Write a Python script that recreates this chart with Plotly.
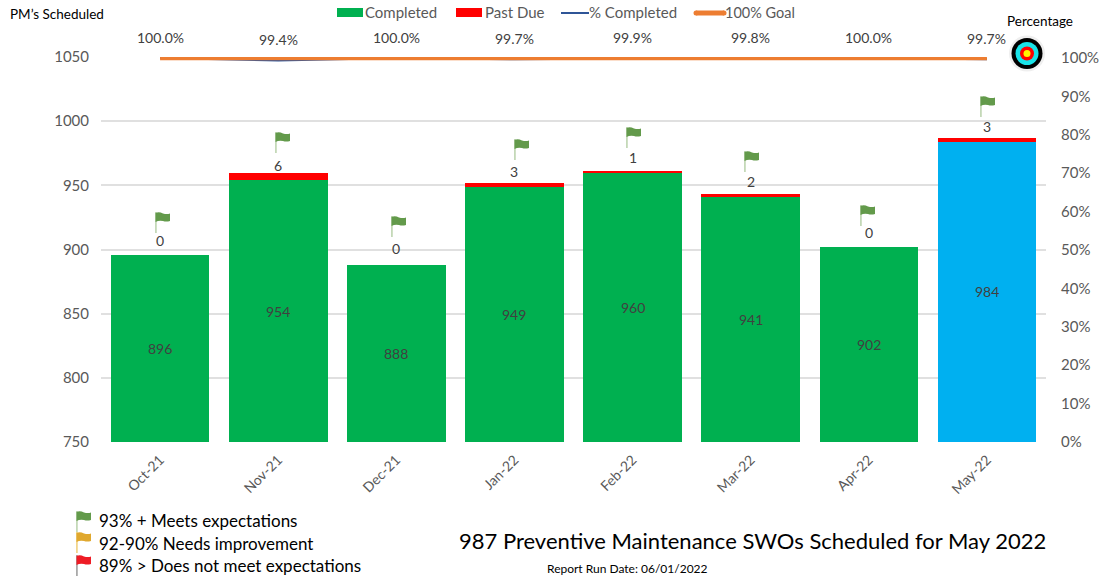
import plotly.graph_objects as go

months = ["Oct-21", "Nov-21", "Dec-21", "Jan-22", "Feb-22", "Mar-22", "Apr-22", "May-22"]
completed = [896, 954, 888, 949, 960, 941, 902, 984]
past_due = [0, 6, 0, 3, 1, 2, 0, 3]
pct_completed = [100.0, 99.4, 100.0, 99.7, 99.9, 99.8, 100.0, 99.7]
goal = [100, 100, 100, 100, 100, 100, 100, 100]
pct_ticks = [0, 10, 20, 30, 40, 50, 60, 70, 80, 90, 100]
pct_tick_labels = ["0%", "10%", "20%", "30%", "40%", "50%", "60%", "70%", "80%", "90%", "100%"]
bar_colors = ["#00B050"] * 7 + ["#00B0F0"]

W, H = 1101, 580
L, R, T, B = 101, 1046, 57, 442
Y_MIN, Y_MAX = 750, 1050
FONT = "Lato"
GREY = "#595959"
DARK = "#404040"

def px(x):
    return (x - L) / (R - L)

def py(y):
    return (B - y) / (B - T)

fig = go.Figure()
fig.add_bar(x=months, y=completed, name="Completed", marker=dict(color=bar_colors, line_width=0), yaxis="y")
fig.add_bar(x=months, y=past_due, name="Past Due", marker=dict(color="#FF0000", line_width=0), yaxis="y")
fig.add_scatter(x=months, y=pct_completed, name="% Completed", mode="lines", yaxis="y2", cliponaxis=False,
                line=dict(color="#2F5597", width=2.25))
fig.add_scatter(x=months, y=goal, name="100% Goal", mode="lines", yaxis="y2", cliponaxis=False,
                line=dict(color="#ED7D31", width=4.5))

annotations = []
for m, p in zip(months, pct_completed):
    annotations.append(dict(x=m, y=p, xref="x", yref="y2", text=f"{p:.1f}%", showarrow=False, yshift=21,
                            font=dict(color=DARK, size=14, family=FONT)))
label_lift = [14, 7, 16, 11, 14, 13, 14, 11]
for m, c, d, lift in zip(months, completed, past_due, label_lift):
    annotations.append(dict(x=m, y=c + d, xref="x", yref="y", text=str(d), showarrow=False, yshift=lift,
                            font=dict(color=DARK, size=14, family=FONT)))
# the visible part of each bar starts at the axis floor, so its label sits mid-way
for m, c in zip(months, completed):
    annotations.append(dict(x=m, y=(c + Y_MIN) / 2, xref="x", yref="y", text=str(c), showarrow=False,
                            font=dict(color=DARK, size=14, family=FONT)))

def note(x, y, text, size, color="black"):
    annotations.append(dict(x=px(x), y=py(y), xref="paper", yref="paper", text=text, showarrow=False,
                            xanchor="left", yanchor="middle", borderpad=0, borderwidth=0,
                            font=dict(color=color, size=size, family=FONT)))

note(10, 14, "PM’s Scheduled", 13.5)
note(1007, 21, "Percentage", 13.5)
note(99, 520, "93% + Meets expectations", 17)
note(99, 543, "92-90% Needs improvement", 17)
note(99, 565, "89% > Does not meet expectations", 17)
note(459, 540, "987 Preventive Maintenance SWOs Scheduled for May 2022", 22)
note(547, 568, "Report Run Date: 06/01/2022", 12)
note(365, 12, "Completed", 15, GREY)
note(485, 12, "Past Due", 15, GREY)
note(589, 12, "% Completed", 15, GREY)
note(725, 12, "100% Goal", 14.5, GREY)

shapes = []

def box(x0, x1, y0, y1, color):
    shapes.append(dict(type="rect", xref="paper", yref="paper", x0=px(x0), x1=px(x1), y0=py(y0), y1=py(y1),
                       fillcolor=color, line_width=0, layer="above"))

box(337, 363, 8, 17, "#00B050")
box(456, 482, 8, 17, "#FF0000")
box(561, 589, 12, 14, "#2F5597")
box(696, 724, 10.5, 15.5, "#ED7D31")
for cx in (696, 724):
    shapes.append(dict(type="circle", xref="paper", yref="paper", xsizemode="pixel", ysizemode="pixel",
                       xanchor=px(cx), yanchor=py(13), x0=-2.5, x1=2.5, y0=-2.5, y1=2.5,
                       fillcolor="#ED7D31", line_width=0, layer="above"))

def flag(x, y, body, pole):
    shapes.append(dict(type="path", xref="paper", yref="paper", xsizemode="pixel", ysizemode="pixel",
                       xanchor=px(x), yanchor=py(y), path="M0,1 L1.8,1 L1.8,-20 L0,-20 Z",
                       fillcolor=pole, line_width=0, layer="above"))
    shapes.append(dict(type="path", xref="paper", yref="paper", xsizemode="pixel", ysizemode="pixel",
                       xanchor=px(x), yanchor=py(y),
                       path="M0.5,0 Q4,1.5 8,-0.5 Q12,-1.5 15,-0.5 L15,-8 Q11,-9 8,-8 Q4,-7 0.5,-9 Z",
                       fillcolor=body, line_width=0, layer="above"))

GREEN_FLAG = ("#639A4B", "#C4D9B8")
flag_spots = [(155, 213), (275, 133), (391, 217), (514, 140), (626, 128), (744, 152), (860, 206), (980, 97)]
for sx, sy in flag_spots:
    flag(sx, sy, *GREEN_FLAG)
flag(76, 512, *GREEN_FLAG)
flag(76, 533, "#E0A82E", "#F2D58C")
flag(76, 556, "#EE1C25", "#A9A9A9")

for r, col in [(18, "#EFEFEF"), (15.5, "#000000"), (11.5, "#19E3E8"), (7, "#FF0000"), (3.5, "#FFF200")]:
    shapes.append(dict(type="circle", xref="paper", yref="paper", xsizemode="pixel", ysizemode="pixel",
                       xanchor=px(1027), yanchor=py(53.5), x0=-r, x1=r, y0=-r, y1=r,
                       fillcolor=col, line_width=0, layer="above"))

fig.update_layout(
    width=W, height=H, autosize=False,
    margin=dict(l=L, r=W - R, t=T, b=H - B, pad=0, autoexpand=False),
    paper_bgcolor="white", plot_bgcolor="white",
    barmode="stack", bargap=0.165,
    showlegend=False,
    font=dict(family=FONT, color=GREY),
    xaxis=dict(type="category", tickangle=-45, tickfont=dict(color=GREY, size=14, family=FONT),
               showgrid=False, showline=False, zeroline=False, ticks="", ticklabelstandoff=6, automargin=False),
    yaxis=dict(range=[Y_MIN, Y_MAX], dtick=50, tickfont=dict(color=GREY, size=15, family=FONT),
               gridcolor="#E0E0E0", gridwidth=1.5, zeroline=False, showline=False, ticklabelstandoff=11,
               automargin=False),
    yaxis2=dict(range=[0, 100.26], tickmode="array", tickvals=pct_ticks, ticktext=pct_tick_labels,
                overlaying="y", side="right",
                tickfont=dict(color=GREY, size=15, family=FONT), showgrid=False, zeroline=False,
                showline=False, ticklabelstandoff=14, automargin=False),
    annotations=annotations, shapes=shapes,
)

fig.write_html("out.html", post_script="document.body.style.margin='0';",
               config=dict(displayModeBar=False))
